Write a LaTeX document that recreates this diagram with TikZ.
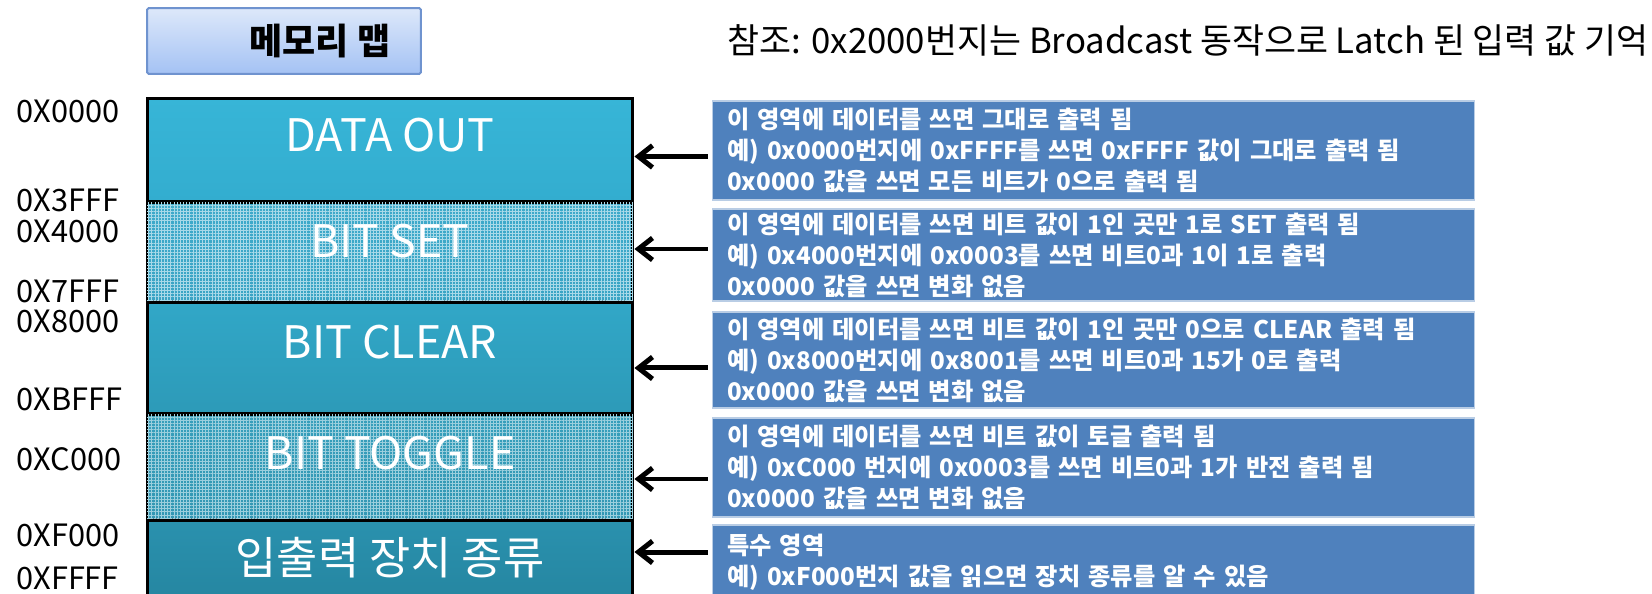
\documentclass[tikz,border=0pt]{standalone}
\usepackage{fontspec}
\setmainfont{Noto Sans CJK KR}
\usetikzlibrary{positioning, arrows.meta, patterns.meta}
\definecolor{DescBlue}{HTML}{4F81BD}
\definecolor{DescEdge}{HTML}{B9CDE5}
\definecolor{TitleTop}{HTML}{DDE8FA}
\definecolor{TitleBot}{HTML}{A4C2F4}
\definecolor{TitleEdge}{HTML}{6F93CF}
\definecolor{OutTop}{HTML}{37B5D7}
\definecolor{OutBot}{HTML}{33ADCF}
\definecolor{SetTop}{HTML}{3EAACB}
\definecolor{SetBot}{HTML}{3AA4C4}
\definecolor{ClrTop}{HTML}{31A7C7}
\definecolor{ClrBot}{HTML}{2D9AB8}
\definecolor{TglTop}{HTML}{379FBC}
\definecolor{TglBot}{HTML}{3397B3}
\definecolor{DevTop}{HTML}{2A91AE}
\definecolor{DevBot}{HTML}{2586A1}

\begin{document}
\begin{tikzpicture} [x=0.02cm, y=-0.02cm,
			every node/.style={inner sep=0pt},
			sec/.style={draw=black, line width=0.06cm, minimum width=9.72cm},
			sectext/.style={text=white, font=\fontsize{25.5}{30}\selectfont},
			meshfill/.style={postaction={pattern={Lines[angle=0,distance=1.8pt,line width=0.4pt]}, pattern color=#1},
				postaction={pattern={Lines[angle=90,distance=1.8pt,line width=0.4pt]}, pattern color=#1}},
			addr/.style={anchor=west, font=\fontsize{17.5}{21}\selectfont},
			desc/.style={fill=DescBlue, draw=DescEdge, line width=0.6pt, text=white, align=left, text width=14.66cm,
				inner xsep=0.3cm, minimum width=15.26cm, font=\bfseries\fontsize{13.8}{17.6}\selectfont},
			titlebox/.style={draw=TitleEdge, line width=0.04cm, rounded corners=1pt, top color=TitleTop, bottom color=TitleBot,
				minimum width=5.48cm, minimum height=1.32cm},
			arr/.style={line width=0.1cm, -{Straight Barb[length=0.28cm,width=0.44cm]}}
		]
			\useasboundingbox (0,0) rectangle (1652,594);
			\node at (284,41) [titlebox, label={[font=\bfseries\fontsize{20.5}{24}\selectfont, xshift=0.72cm]center:메모리 맵}] (mapname) {};
			\node at (727,40) [anchor=west, font=\fontsize{19.8}{23}\selectfont] (refnote) {참조: 0x2000번지는 Broadcast 동작으로 Latch 된 입력 값 기억};
			\node at (390,150) [sec, minimum height=2.08cm, top color=OutTop, bottom color=OutBot,
				label={[sectext, yshift=0.3cm]center:DATA OUT}] (dataout) {};
			\node at (390,252) [sec, minimum height=2.0cm, top color=SetTop, bottom color=SetBot, meshfill=white!55!SetTop,
				label={[sectext, yshift=0.22cm]center:BIT SET}] (bitset) {};
			\node at (390,358) [sec, minimum height=2.24cm, top color=ClrTop, bottom color=ClrBot,
				label={[sectext, yshift=0.32cm]center:BIT CLEAR}] (bitclear) {};
			\node at (390,467) [sec, minimum height=2.12cm, top color=TglTop, bottom color=TglBot, meshfill=white!50!TglTop,
				label={[sectext, yshift=0.28cm]center:BIT TOGGLE}] (bittoggle) {};
			\node at (390,560) [sec, minimum height=1.6cm, top color=DevTop, bottom color=DevBot,
				label={[sectext, yshift=0.04cm]center:입출력 장치 종류}] (devtype) {};
			\node at (16,111) [addr] (a0000) {0X0000};
			\node at (16,200) [addr] (a3fff) {0X3FFF};
			\node at (16,231) [addr] (a4000) {0X4000};
			\node at (16,291) [addr] (a7fff) {0X7FFF};
			\node at (16,321) [addr] (a8000) {0X8000};
			\node at (16,399) [addr] (abfff) {0XBFFF};
			\node at (16,459) [addr] (ac000) {0XC000};
			\node at (16,535) [addr] (af000) {0XF000};
			\node at (16,578) [addr] (affff) {0XFFFF};
			\node at (1093.5,150.5) [desc, minimum height=1.98cm] (desc1) {이 영역에 데이터를 쓰면 그대로 출력 됨\\예) 0x0000번지에 0xFFFF를 쓰면 0xFFFF 값이 그대로 출력 됨\\0x0000 값을 쓰면 모든 비트가 0으로 출력 됨};
			\node at (1093.5,255) [desc, minimum height=1.84cm] (desc2) {이 영역에 데이터를 쓰면 비트 값이 1인 곳만 1로 SET 출력 됨\\예) 0x4000번지에 0x0003를 쓰면 비트0과 1이 1로 출력\\0x0000 값을 쓰면 변화 없음};
			\node at (1093.5,360) [desc, minimum height=1.92cm] (desc3) {이 영역에 데이터를 쓰면 비트 값이 1인 곳만 0으로 CLEAR 출력 됨\\예) 0x8000번지에 0x8001를 쓰면 비트0과 15가 0로 출력\\0x0000 값을 쓰면 변화 없음};
			\node at (1093.5,467.5) [desc, minimum height=1.98cm] (desc4) {이 영역에 데이터를 쓰면 비트 값이 토글 출력 됨\\예) 0xC000 번지에 0x0003를 쓰면 비트0과 1가 반전 출력 됨\\0x0000 값을 쓰면 변화 없음};
			\node at (1093.5,562.5) [desc, minimum height=1.5cm] (desc5) {특수 영역\\예) 0xF000번지 값을 읽으면 장치 종류를 알 수 있음};
			\path[draw,arr] ([xshift=-0.08cm,yshift=-0.12cm]desc1.west) -- ([yshift=-0.12cm]desc1.west -| dataout.east);
			\path[draw,arr] ([xshift=-0.08cm,yshift=0.12cm]desc2.west) -- ([yshift=0.12cm]desc2.west -| bitset.east);
			\path[draw,arr] ([xshift=-0.08cm,yshift=-0.16cm]desc3.west) -- ([yshift=-0.16cm]desc3.west -| bitclear.east);
			\path[draw,arr] ([xshift=-0.08cm,yshift=-0.23cm]desc4.west) -- ([yshift=-0.23cm]desc4.west -| bittoggle.east);
			\path[draw,arr] ([xshift=-0.08cm,yshift=0.21cm]desc5.west) -- ([yshift=0.21cm]desc5.west -| devtype.east);
		\end{tikzpicture}
\end{document}
